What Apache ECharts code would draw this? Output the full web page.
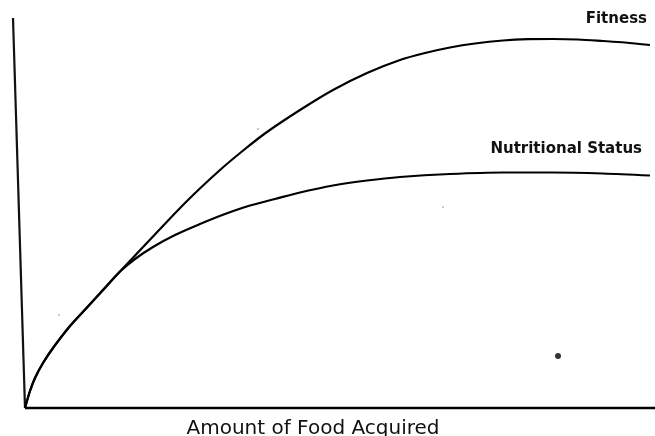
<!DOCTYPE html>
<html>
<head>
<meta charset="utf-8">
<script src="https://cdn.jsdelivr.net/npm/echarts@6/dist/echarts.min.js"></script>
<style>
  html, body { margin: 0; padding: 0; background: #fff; }
  #chart { width: 655px; height: 436px; }
</style>
</head>
<body>
<div id="chart"></div>
<script>
// Fitness curve: amount of food acquired (x) and fitness (y), arbitrary units
var fitnessX = [0, 5, 10, 18, 28, 45, 62, 78, 95, 128, 162, 195, 220, 242, 275, 308, 342, 375, 400, 425, 450, 478, 503, 528, 553, 578, 600, 625];
var fitnessY = [0, 17, 30, 45, 60, 82, 100.5, 118, 136.5, 171.5, 207, 238, 259, 276, 298, 318, 335, 348, 355, 360.5, 364.5, 367.5, 368.8, 369, 368.5, 367, 365.5, 363];
// Nutritional status curve: amount of food acquired (x) and nutritional status (y)
var nutritionX = [0, 5, 10, 18, 28, 45, 62, 78, 95, 110, 128, 150, 175, 200, 225, 250, 275, 308, 342, 375, 425, 478, 528, 578, 625];
var nutritionY = [0, 17, 30, 45, 60, 82, 100.5, 118, 136.5, 149, 161, 173, 184, 194, 202.5, 209, 215.5, 222.5, 227.5, 231, 234, 235.5, 235.5, 234.5, 232.5];
// Hand-drawn (slightly slanted) vertical axis line
var yAxisLineX = [-12, 0];
var yAxisLineY = [390, 0];
// Horizontal axis line
var xAxisLineX = [0, 630];
var xAxisLineY = [0, 0];
// Stray mark on the scanned figure
var dotX = [533];
var dotY = [52];
// Faint specks on the scan
var speckX = [34, 233, 418];
var speckY = [93, 279, 201];

var seriesLabels = ['Fitness', 'Nutritional Status'];
var xAxisTitle = 'Amount of Food Acquired';

function zip(xs, ys) { return xs.map(function (x, i) { return [x, ys[i]]; }); }

var chart = echarts.init(document.getElementById('chart'), null, { renderer: 'canvas' });
chart.setOption({
  animation: false,
  backgroundColor: '#ffffff',
  grid: { left: 10, right: 0, top: 8, bottom: 28 },
  xAxis: {
    type: 'value', min: -15, max: 630,
    axisLine: { show: false }, axisTick: { show: false }, axisLabel: { show: false }, splitLine: { show: false }
  },
  yAxis: {
    type: 'value', min: 0, max: 400,
    axisLine: { show: false }, axisTick: { show: false }, axisLabel: { show: false }, splitLine: { show: false }
  },
  series: [
    {
      name: 'yaxis', type: 'line', data: zip(yAxisLineX, yAxisLineY),
      symbol: 'none', lineStyle: { color: '#111', width: 2.2 }, silent: true
    },
    {
      name: 'xaxis', type: 'line', data: zip(xAxisLineX, xAxisLineY), clip: false,
      symbol: 'none', lineStyle: { color: '#000', width: 2.5 }, silent: true
    },
    {
      name: seriesLabels[0], type: 'line', data: zip(fitnessX, fitnessY),
      smooth: 0.3, symbol: 'none',
      lineStyle: { color: '#000', width: 2.2 }
    },
    {
      name: seriesLabels[1], type: 'line', data: zip(nutritionX, nutritionY),
      smooth: 0.3, symbol: 'none',
      lineStyle: { color: '#000', width: 2.2 }
    },
    {
      name: 'dot', type: 'scatter', data: zip(dotX, dotY),
      symbolSize: 6, itemStyle: { color: '#000' }
    },
    {
      name: 'specks', type: 'scatter', data: zip(speckX, speckY),
      symbolSize: 2, itemStyle: { color: '#aaa' }
    }
  ],
  graphic: [
    {
      type: 'text', x: 647, y: 19,
      style: { text: seriesLabels[0], fill: '#111', font: 'bold 15px "DejaVu Sans"', textAlign: 'right', textVerticalAlign: 'middle' }
    },
    {
      type: 'text', x: 642, y: 149,
      style: { text: seriesLabels[1], fill: '#111', font: 'bold 15px "DejaVu Sans"', textAlign: 'right', textVerticalAlign: 'middle' }
    },
    {
      type: 'text', x: 313, y: 429,
      style: { text: xAxisTitle, fill: '#111', font: '20px "DejaVu Sans"', textAlign: 'center', textVerticalAlign: 'middle' }
    }
  ]
});
</script>
</body>
</html>
